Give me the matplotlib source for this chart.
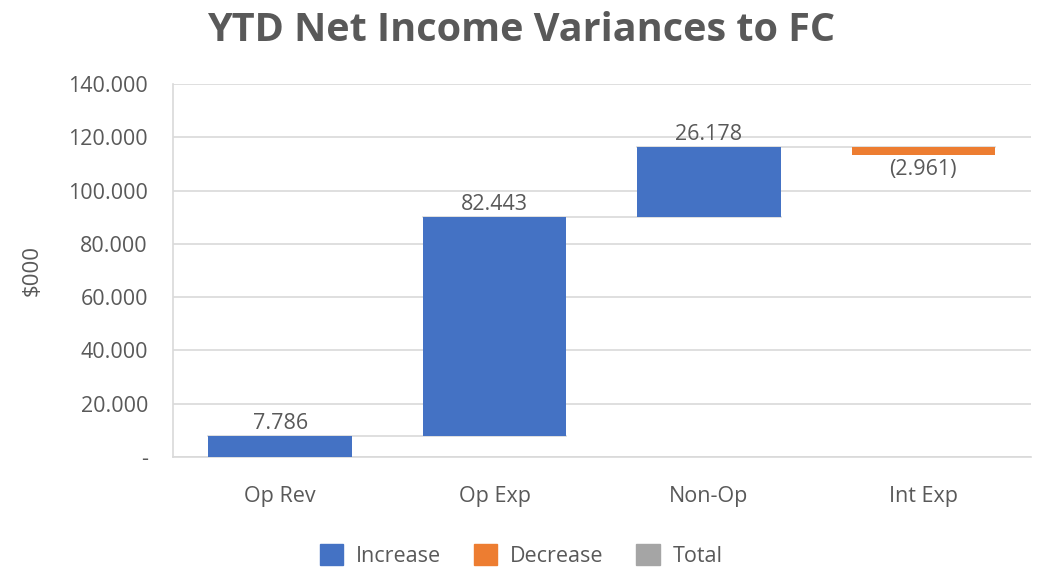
import matplotlib.pyplot as plt
from matplotlib.patches import Patch
import numpy as np

categories = ['Op Rev', 'Op Exp', 'Non-Op', 'Int Exp']
changes = [7.786, 82.443, 26.178, -2.961]
yticks = [0, 20, 40, 60, 80, 100, 120, 140]

BLUE = '#4472C4'
ORANGE = '#ED7D31'
GRAY = '#A5A5A5'
TXT = '#595959'
GRID = '#D9D9D9'

plt.rcParams['font.family'] = ['Open Sans', 'DejaVu Sans']

fig = plt.figure(figsize=(10.42, 5.72), dpi=100)
ax = fig.add_axes([0.166, 0.201, 0.823, 0.652])

x = np.arange(len(categories))
ends = np.cumsum(changes)
starts = ends - np.array(changes)
width = 0.67

for i, (s, c) in enumerate(zip(starts, changes)):
    color = BLUE if c >= 0 else ORANGE
    ax.bar(x[i], c, bottom=s, width=width, color=color, zorder=3)
    if c >= 0:
        ax.text(x[i], s + c + 0.8, f'{c:.3f}', ha='center', va='bottom',
                fontsize=15.5, color=TXT)
    else:
        ax.text(x[i], s + c - 1.5, f'({-c:.3f})', ha='center', va='top',
                fontsize=15.5, color=TXT)

# connector lines between bars
for i in range(len(categories) - 1):
    ax.plot([x[i] - width / 2, x[i + 1] + width / 2], [ends[i], ends[i]],
            color=GRID, lw=1.2, zorder=2)

ax.set_xlim(-0.5, len(categories) - 0.5)
ax.set_ylim(0, 140)
ax.set_yticks(yticks)
ax.set_yticklabels(['-' if v == 0 else f'{v:.3f}' for v in yticks])
ax.set_xticks(x)
ax.set_xticklabels(categories)
ax.tick_params(axis='both', length=0, labelsize=15.5, colors=TXT)
ax.tick_params(axis='x', pad=21)
ax.tick_params(axis='y', pad=18)
ax.grid(axis='y', color=GRID, lw=1.2, zorder=0)
ax.set_axisbelow(True)
for side in ['top', 'right']:
    ax.spines[side].set_visible(False)
for side in ['left', 'bottom']:
    ax.spines[side].set_color(GRID)
    ax.spines[side].set_linewidth(1.2)

ax.set_ylabel('$000', fontsize=16, color=TXT, labelpad=18)

fig.suptitle('YTD Net Income Variances to FC', fontsize=28.5, fontweight='bold',
             color=TXT, y=0.98)

handles = [Patch(color=BLUE, label='Increase'),
           Patch(color=ORANGE, label='Decrease'),
           Patch(color=GRAY, label='Total')]
fig.legend(handles=handles, loc='lower center', ncol=3, frameon=False,
           fontsize=15.5, labelcolor=TXT, handlelength=1.1, handleheight=1.1,
           columnspacing=1.5, handletextpad=0.6, bbox_to_anchor=(0.5, -0.025))

plt.savefig('out.png', dpi=100)
